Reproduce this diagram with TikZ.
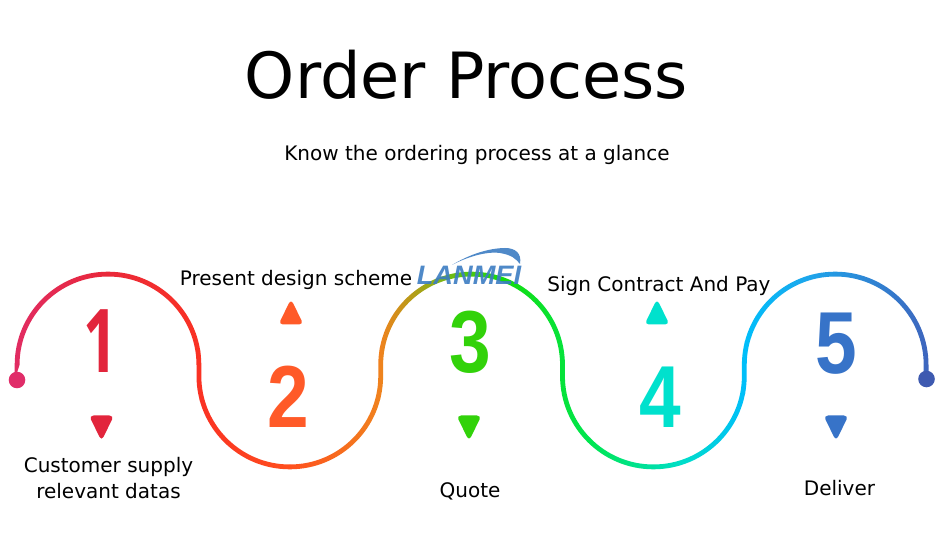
\documentclass[tikz,border=0pt]{standalone}
\usepackage{fontspec}
\setmainfont{DejaVu Sans}
\newfontfamily\numfont{Liberation Sans}[BoldFont={Liberation Sans Bold}]
\newfontfamily\onefont{Open Sans}[BoldFont={Open Sans Bold}]
\newfontfamily\logofont{Liberation Sans}
\definecolor{cone}{RGB}{226,37,60}
\definecolor{ctwo}{RGB}{255,90,40}
\definecolor{cthree}{RGB}{50,210,10}
\definecolor{cfour}{RGB}{0,225,205}
\definecolor{cfive}{RGB}{55,115,200}
\definecolor{clogo}{RGB}{60,125,195}
\definecolor{gA}{RGB}{224,45,105}
\definecolor{gB}{RGB}{232,40,60}
\definecolor{gC}{RGB}{250,50,35}
\definecolor{gD}{RGB}{255,80,30}
\definecolor{gE}{RGB}{240,130,30}
\definecolor{gF}{RGB}{130,180,20}
\definecolor{gG}{RGB}{20,220,10}
\definecolor{gH}{RGB}{0,230,80}
\definecolor{gI}{RGB}{0,222,200}
\definecolor{gJ}{RGB}{0,190,250}
\definecolor{gK}{RGB}{30,165,235}
\definecolor{gL}{RGB}{65,95,185}
\tikzset{
  x=0.75pt,y=0.75pt,
  label text/.style={font=\fontsize{15}{15}\selectfont,text=black,inner sep=0pt,align=center},
  big num/.style={font=\fontsize{66}{66}\selectfont\numfont\bfseries,inner sep=0pt,xscale=0.85},
}
\newcommand{\trimark}[4]{% x, y, direction (+1 up, -1 down), colour
  \fill[#4,rounded corners=3.4pt] (#1-12.5,#2-11.5*#3) -- (#1+12.5,#2-11.5*#3) -- (#1,#2+14*#3) -- cycle;
}
\begin{document}
\begin{tikzpicture}
\useasboundingbox (0,0) rectangle (939,532);
\fill[white] (0,0) rectangle (939,532);
\node[inner sep=0pt,font=\fontsize{47.8}{47.8}\selectfont] (title) at (466.5,457) {Order Process};
\node[label text] (sub) at (477,377) {Know the ordering process at a glance};
% gradient band
\def\rr{90.9}\def\ww{2.4}\def\xo{17.1}
\begin{scope}
\clip (\xo-\ww,152) -- ++(0,15)
  arc[start angle=180,end angle=0,radius=\rr+\ww] -- ++(0,-11)
  arc[start angle=180,end angle=360,radius=\rr-\ww] -- ++(0,11)
  arc[start angle=180,end angle=0,radius=\rr+\ww] -- ++(0,-11)
  arc[start angle=180,end angle=360,radius=\rr-\ww] -- ++(0,11)
  arc[start angle=180,end angle=0,radius=\rr+\ww] -- ++(0,-15)
  -- ++(-2*\ww,0) -- ++(0,15)
  arc[start angle=0,end angle=180,radius=\rr-\ww] -- ++(0,-11)
  arc[start angle=360,end angle=180,radius=\rr+\ww] -- ++(0,11)
  arc[start angle=0,end angle=180,radius=\rr-\ww] -- ++(0,-11)
  arc[start angle=360,end angle=180,radius=\rr+\ww] -- ++(0,11)
  arc[start angle=0,end angle=180,radius=\rr-\ww] -- cycle;
\foreach \xa/\xb/\ca/\cb in {0/100/gA/gB,100/200/gB/gC,200/290/gC/gD,290/380/gD/gE,380/440/gE/gF,440/500/gF/gG,500/590/gG/gH,590/680/gH/gI,680/745/gI/gJ,745/810/gJ/gK,810/939/gK/gL}
  \shade[left color=\ca,right color=\cb,shading angle=90,line width=0pt] (\xa-0.2,50) rectangle (\xb+0.2,270);
\end{scope}
\fill[gA] (17,152) circle (8.3);
\fill[gL!95!black] (926.5,153) circle (8.3);
% triangles
\trimark{101.5}{105}{-1}{cone}
\trimark{291}{219}{1}{ctwo}
\trimark{469}{105}{-1}{cthree}
\trimark{657}{219}{1}{cfour}
\trimark{836}{105}{-1}{cfive}
% numbers
\node[big num,text=cone,font=\fontsize{66}{66}\selectfont\onefont\bfseries,xscale=0.8] (n1) at (101,191) {1};
\node[big num,text=ctwo] (n2) at (288.5,135) {2};
\node[big num,text=cthree] (n3) at (470.5,190) {3};
\node[big num,text=cfour] (n4) at (660,135) {4};
\node[big num,text=cfive] (n5) at (836,188) {5};
% labels
\node[label text,font=\fontsize{15}{19.5}\selectfont] (l1) at (108.5,54) {Customer supply\\relevant datas};
\node[label text] (l2) at (296,252) {Present design scheme};
\node[label text] (l3) at (470,41) {Quote};
\node[label text] (l4) at (659,246) {Sign Contract And Pay};
\node[label text] (l5) at (839.5,44) {Deliver};
% logo
\fill[clogo,opacity=.9] (452,267) .. controls (475,281) and (495,284) .. (505,284) .. controls (515,284) and (522,279) .. (520,268) .. controls (516,273) and (512,277) .. (500,279) .. controls (485,281) and (465,274) .. (452,267) -- cycle;
\node[inner sep=0pt,text=clogo,opacity=.9,font=\fontsize{20}{20}\selectfont\logofont\bfseries\itshape,xscale=1.02] (logo) at (469,257) {LANMEI};
\end{tikzpicture}
\end{document}
